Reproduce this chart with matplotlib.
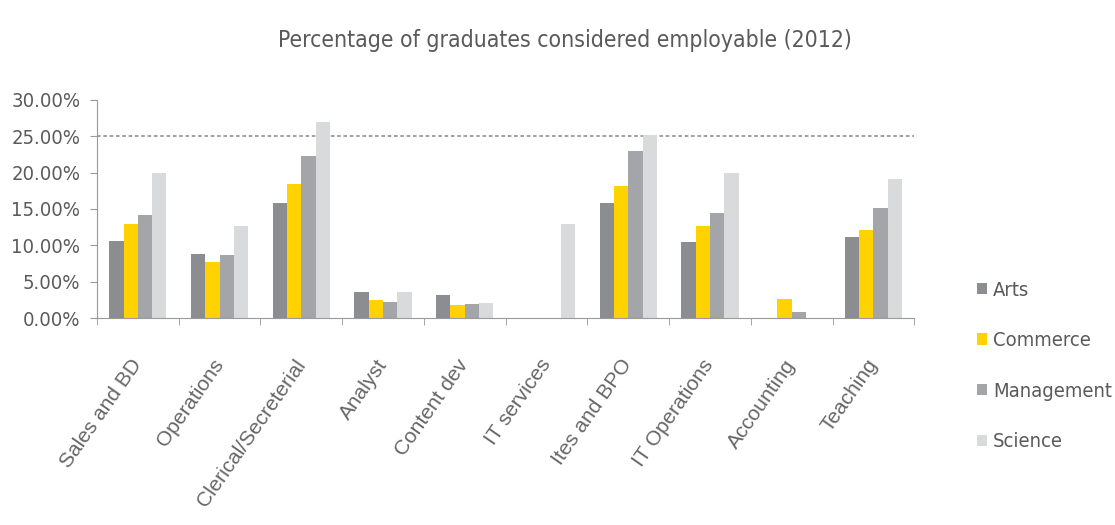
import numpy as np
import matplotlib
matplotlib.use("Agg")
import matplotlib.pyplot as plt
from matplotlib.ticker import PercentFormatter
from matplotlib.font_manager import FontProperties

categories = ["Sales and BD", "Operations", "Clerical/Secreterial", "Analyst",
              "Content dev", "IT services", "Ites and BPO", "IT Operations",
              "Accounting", "Teaching"]
arts = [10.6, 8.8, 15.8, 3.6, 3.2, 0.0, 15.8, 10.4, 0.0, 11.1]
commerce = [13.0, 7.7, 18.4, 2.5, 1.8, 0.0, 18.2, 12.7, 2.6, 12.1]
management = [14.2, 8.7, 22.3, 2.2, 2.0, 0.0, 23.0, 14.5, 0.8, 15.1]
science = [20.0, 12.7, 27.0, 3.6, 2.1, 12.9, 25.2, 19.9, 0.0, 19.1]
series_names = ["Arts", "Commerce", "Management", "Science"]
colors = ["#8b8d90", "#ffd200", "#a3a5a8", "#d9dadb"]
threshold = 25.0

text_col = "#5a5a5a"


def narrow(size):
    return FontProperties(family="DejaVu Sans", stretch="condensed", size=size)


fig = plt.figure(figsize=(11.15, 5.25), dpi=100)
ax = fig.add_axes([0.087, 0.394, 0.733, 0.416])

x = np.arange(len(categories))
w = 0.175
for i, (vals, name, c) in enumerate(zip([arts, commerce, management, science], series_names, colors)):
    ax.bar(x + (i - 1.5) * w, vals, width=w, color=c, label=name)

# 25% reference line
ax.axhline(threshold, color="#9a9a9a", linestyle=(0, (2, 1.5)), linewidth=1.3, zorder=0)

ax.set_xlim(-0.5, len(categories) - 0.5)
ax.set_ylim(0, 30)
ax.set_yticks(np.arange(0, 31, 5))
ax.yaxis.set_major_formatter(PercentFormatter(decimals=2))
ax.set_xticks(x)
ax.set_xticklabels(categories, rotation=55, ha="right", va="center", rotation_mode="anchor",
                   fontsize=15, color="#666666", family=["Liberation Sans", "DejaVu Sans"])
ax.set_xticks(np.arange(-0.5, len(categories)), minor=True)
ax.tick_params(axis="x", which="major", length=0, pad=31)
ax.tick_params(axis="x", which="minor", length=5, color="#999999")
ax.tick_params(axis="y", length=5, color="#999999", labelcolor=text_col, pad=7)
for lbl in ax.get_yticklabels():
    lbl.set_fontproperties(narrow(14.5))

for s in ["top", "right"]:
    ax.spines[s].set_visible(False)
for s in ["left", "bottom"]:
    ax.spines[s].set_color("#999999")

fig.text(0.507, 0.922, "Percentage of graduates considered employable (2012)",
         ha="center", va="center", color=text_col, fontproperties=narrow(16.5))

leg = fig.legend(loc="upper left", bbox_to_anchor=(0.86, 0.50), frameon=False,
                 handlelength=0.5, handleheight=0.5, handletextpad=0.3,
                 labelspacing=1.57, prop=narrow(14.5))
for t in leg.get_texts():
    t.set_color(text_col)

fig.savefig("out.png", dpi=100)
